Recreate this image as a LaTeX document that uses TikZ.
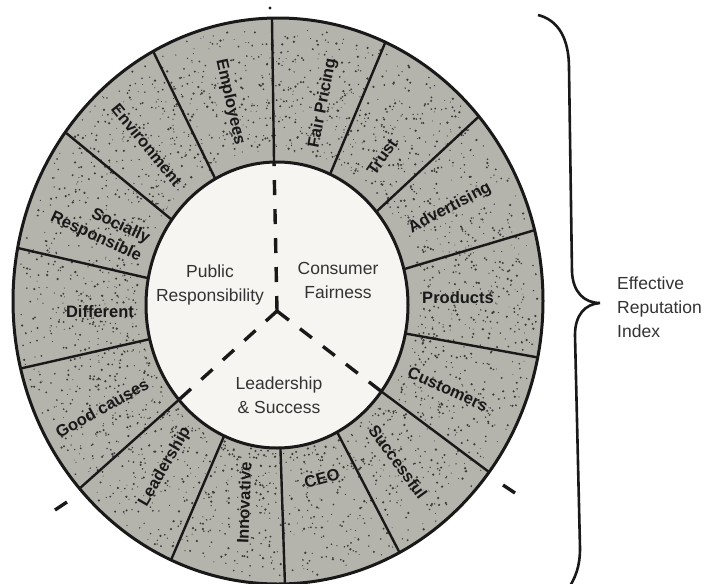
\documentclass[tikz,border=0pt]{standalone}
\usepackage{fontspec}
\setmainfont{Liberation Sans}
\definecolor{ringgray}{RGB}{180,179,172}
\definecolor{speck}{RGB}{60,60,56}
\definecolor{corewhite}{RGB}{246,245,241}
\begin{document}
\begin{tikzpicture}[x=1pt,y=-1pt,
  ringlabel/.style={font=\fontsize{16.5}{20}\selectfont\bfseries, text=black!90, inner sep=0pt},
  corelabel/.style={font=\fontsize{17.5}{24}\selectfont, text=black!80, align=center, inner sep=0pt},
  bracetext/.style={font=\fontsize{17.5}{24}\selectfont, text=black!80, align=left, inner sep=0pt},
  divider/.style={line width=2.4pt, draw=black!90},
  axisline/.style={line width=3.4pt, draw=black!90, dash pattern=on 15pt off 14pt},
  rim/.style={line width=3pt, draw=black!90},
]
\useasboundingbox (0,0) rectangle (705,584);

% centres of the two ellipses
\coordinate (co) at (278,301);
\coordinate (ci) at (277,305);

% outer ring with a grainy fill
\fill[ringgray] (co) ellipse [x radius=265pt, y radius=283pt];
\pgfmathsetseed{11}
\foreach \i in {1,...,2800}{
  \pgfmathsetmacro{\ang}{360*rnd}
  \pgfmathsetmacro{\rad}{0.53+0.45*rnd}
  \pgfmathsetmacro{\sz}{0.45+0.85*rnd}
  \fill[speck] ({278+265*\rad*cos(\ang)},{301-283*\rad*sin(\ang)}) circle[radius=\sz pt];
}
\draw[rim] (co) ellipse [x radius=265pt, y radius=283pt];

% segment dividers
\foreach \a in {91.3,66.1,40.7,14.5,-11.5,-37.2,-62.7,-88.5,-113.8,-138.5,-166.2,169.2,143.4,118.1}
  \draw[divider] ({277+131*cos(\a)},{305-143*sin(\a)}) -- ({278+265*cos(\a)},{301-283*sin(\a)});

% inner core
\filldraw[rim, fill=corewhite] (ci) ellipse [x radius=131pt, y radius=143pt];

% dashed axes splitting the core into three areas
\coordinate (J) at (277,311);
\coordinate (t0) at (274,162);
\coordinate (t5) at (381.4,391.5);
\coordinate (t9) at (178.9,399.8);
\draw[axisline] (J) -- (t0);
\draw[axisline] (J) -- (t5);
\draw[axisline] (J) -- (t9);

% axis ends outside the ring
\coordinate (e9a) at (67,502);  \coordinate (e9b) at (55,510);
\coordinate (e5a) at (503,485); \coordinate (e5b) at (515,493);
\coordinate (e0) at (270,8);
\draw[line width=3.4pt, draw=black!90] (e9a) -- (e9b);
\draw[line width=3.4pt, draw=black!90] (e5a) -- (e5b);
\fill[black!90] (e0) circle[radius=1.6pt];

% ring labels
\node[ringlabel, rotate=-77.5] (emp) at (230,102) {Employees};
\node[ringlabel, rotate=79]    (fair) at (323,103) {Fair Pricing};
\node[ringlabel, rotate=55]    (trust) at (382,157) {Trust};
\node[ringlabel, rotate=28]    (adv) at (450,208) {Advertising};
\node[ringlabel, rotate=0]     (prod) at (458,298) {Products};
\node[ringlabel, rotate=-24.6] (cust) at (448,389) {Customers};
\node[ringlabel, rotate=-54]   (succ) at (398,462) {Successful};
\node[ringlabel, rotate=15]    (ceo) at (322,478) {CEO};
\node[ringlabel, rotate=88]    (innov) at (244,503) {Innovative};
\node[ringlabel, rotate=60]    (lship) at (165,467) {Leadership};
\node[ringlabel, rotate=29]    (good) at (102,408) {Good causes};
\node[ringlabel, rotate=0]     (diff) at (100,312) {Different};
\node[ringlabel, rotate=-25, align=right] (soc) at (100,228) {Socially\\Responsible};
\node[ringlabel, rotate=-50.6] (env) at (147,145) {Environment};

% core labels
\node[corelabel] (pub) at (210,285) {Public\\Responsibility};
\node[corelabel] (cons) at (338,280) {Consumer\\Fairness};
\node[corelabel] (lead) at (279,395) {Leadership\\\& Success};

% brace and index label
\draw[line width=2.6pt, draw=black!90] (538,15) .. controls (558,20) and (569,38) .. (569,68)
  -- (572,272) .. controls (573,292) and (584,303) .. (600,303)
  .. controls (585,304) and (575,315) .. (575,335)
  -- (580,548) .. controls (580,566) and (576,578) .. (566,592);
\node[bracetext, anchor=west] (eri) at (617,307) {Effective\\Reputation\\Index};
\end{tikzpicture}
\end{document}
